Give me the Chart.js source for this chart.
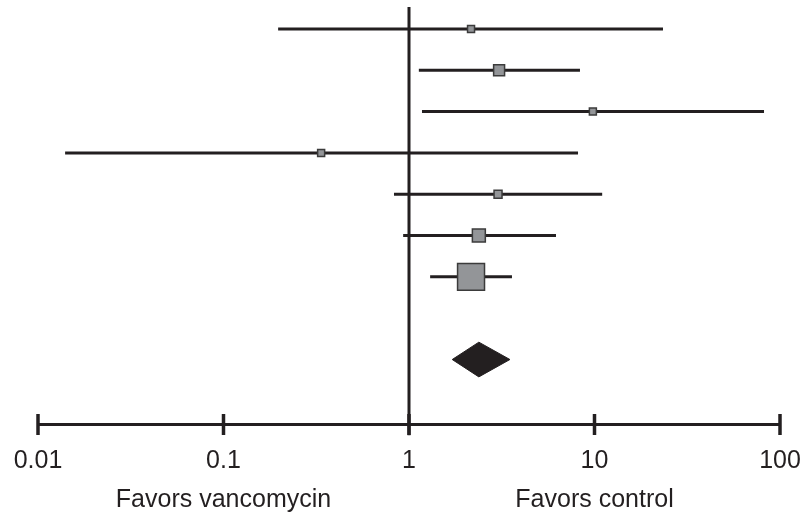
<!DOCTYPE html>
<html>
<head>
<meta charset="utf-8">
<script src="https://cdn.jsdelivr.net/npm/chart.js@4/dist/chart.umd.min.js"></script>
<style>
    body { margin: 0; background: #ffffff; }
    #wrap { width: 808px; height: 513px; position: relative; }
</style>
</head>
<body>
<div id="wrap"><canvas id="forest"></canvas></div>
<script>
// odds ratios with 95% CI per study
let estimates = [2.16, 3.06, 9.8, 0.336, 3.02, 2.38, 2.16];
let lowerCI = [0.197, 1.13, 1.175, 0.014, 0.83, 0.93, 1.30];
let upperCI = [23.4, 8.35, 82.0, 8.15, 11.0, 6.2, 3.59];
let weights = [4.0, 9.8, 4.0, 4.0, 5.2, 13.7, 59.3];

// pooled estimate (diamond)
let pooled = [1.71, 2.38, 3.50];

let tickValues = [0.01, 0.1, 1, 10, 100];
let tickLabels = ["0.01", "0.1", "1", "10", "100"];
let sideLabels = ["Favors vancomycin", "Favors control"];
let sideLabelAt = [0.1, 10];

let ink = "#231f20";
let fontFamily = "'Liberation Sans', Arial, Helvetica, sans-serif";

function rowOf(i) {
    return i + 1;
}

let pooledRow = 9;
let diamondHalf = 0.42;

let datasets = [];

// squares, side grows with study weight
datasets.push({
    type: "scatter",
    data: estimates.map((v, i) => ({x: v, y: rowOf(i)})),
    pointStyle: "rect",
    pointRadius: weights.map(w => 3.5 * Math.sqrt(w) / Math.SQRT2),
    pointBackgroundColor: "#939598",
    pointBorderColor: "#3b3b3b",
    pointBorderWidth: 1.5,
    order: 0
});

// CI lines
for (let i = 0; i < estimates.length; i++) {
    datasets.push({
        type: "line",
        data: [{x: lowerCI[i], y: rowOf(i)}, {x: upperCI[i], y: rowOf(i)}],
        borderColor: ink,
        borderWidth: 3,
        pointRadius: 0,
        fill: false,
        order: 1
    });
}

// diamond
datasets.push({
    type: "line",
    data: [
        {x: pooled[0], y: pooledRow},
        {x: pooled[1], y: pooledRow - diamondHalf},
        {x: pooled[2], y: pooledRow},
        {x: pooled[1], y: pooledRow + diamondHalf},
        {x: pooled[0], y: pooledRow}
    ],
    borderColor: ink,
    borderWidth: 1,
    backgroundColor: ink,
    pointRadius: 0,
    fill: "shape",
    tension: 0,
    order: 1
});

// line of no effect
datasets.push({
    type: "line",
    data: [{x: 1, y: 0.47}, {x: 1, y: 10.83}],
    borderColor: ink,
    borderWidth: 3,
    pointRadius: 0,
    fill: false,
    clip: false,
    order: 2
});

let axisMarks = {
    id: "axisMarks",
    afterDraw(chart) {
        let ctx = chart.ctx;
        let xs = chart.scales.x;
        let base = chart.chartArea.bottom;
        ctx.save();
        ctx.strokeStyle = ink;
        ctx.lineWidth = 3.5;
        tickValues.forEach(v => {
            let px = xs.getPixelForValue(v);
            ctx.beginPath();
            ctx.moveTo(px, base - 10);
            ctx.lineTo(px, base + 11);
            ctx.stroke();
        });
        ctx.fillStyle = ink;
        ctx.font = "25px " + fontFamily;
        ctx.textAlign = "center";
        ctx.textBaseline = "alphabetic";
        sideLabels.forEach((t, i) => {
            ctx.fillText(t, xs.getPixelForValue(sideLabelAt[i]), base + 83);
        });
        ctx.restore();
    }
};

new Chart(document.getElementById("forest"), {
    data: {datasets: datasets},
    options: {
        responsive: true,
        maintainAspectRatio: false,
        animation: false,
        layout: {autoPadding: false, padding: {left: 38, right: 28, top: 7, bottom: 37}},
        plugins: {legend: {display: false}, tooltip: {enabled: false}},
        scales: {
            x: {
                type: "logarithmic",
                min: 0.01,
                max: 100,
                afterBuildTicks: s => { s.ticks = tickValues.map(v => ({value: v})); },
                // invisible tick marks only push the labels down
                grid: {display: true, drawOnChartArea: false, drawTicks: true, tickLength: 22, tickColor: "rgba(0,0,0,0)"},
                border: {display: true, color: ink, width: 3},
                ticks: {
                    autoSkip: false,
                    maxRotation: 0,
                    padding: 0,
                    color: ink,
                    font: {family: fontFamily, size: 25},
                    callback: (v, i) => tickLabels[i]
                }
            },
            y: {
                type: "linear",
                reverse: true,
                min: 0.47,
                max: 10.56,
                display: false
            }
        }
    },
    plugins: [axisMarks]
});
</script>
</body>
</html>
